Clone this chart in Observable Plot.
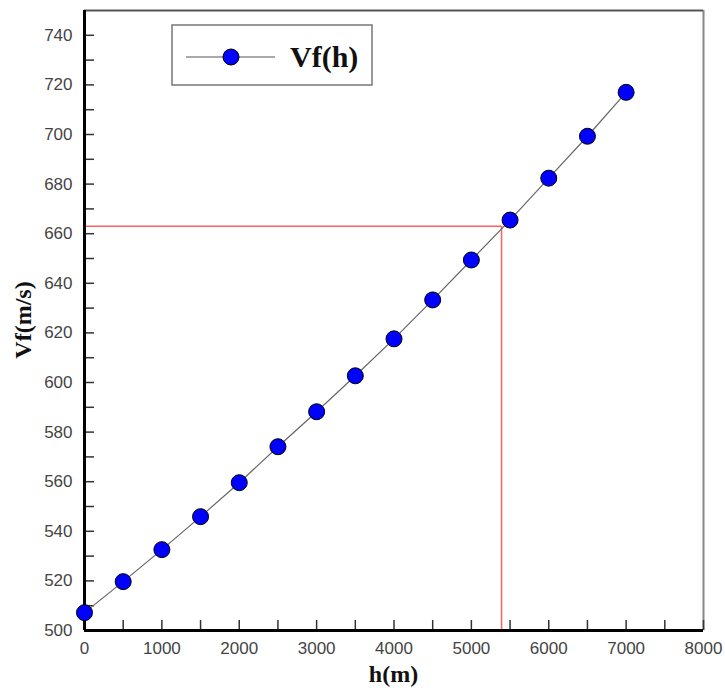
<!DOCTYPE html>
<html>
<head>
<meta charset="utf-8">
<script src="https://cdn.jsdelivr.net/npm/d3@7"></script>
<script src="https://cdn.jsdelivr.net/npm/@observablehq/plot@0.6"></script>
<style>
  body { margin: 0; background: #fff; }
  #wrap { position: relative; width: 725px; height: 690px; }
  #legend { position: absolute; left: 171px; top: 24px; }
</style>
</head>
<body>
<div id="wrap"></div>
<script>
const heights = [0, 500, 1000, 1500, 2000, 2500, 3000, 3500, 4000, 4500, 5000, 5500, 6000, 6500, 7000];
const vf = [507.2, 519.7, 532.6, 545.9, 559.6, 574.1, 588.2, 602.7, 617.6, 633.3, 649.4, 665.5, 682.4, 699.3, 717.0];
const xTickLabels = [0, 1000, 2000, 3000, 4000, 5000, 6000, 7000, 8000];
const yTickLabels = [500, 520, 540, 560, 580, 600, 620, 640, 660, 680, 700, 720, 740];
const xTicks = d3.range(0, 8001, 500);
const yTicks = d3.range(500, 741, 10);
const markH = 5390;
const markV = 663;
const seriesName = "Vf(h)";

const data = heights.map((h, i) => ({h, v: vf[i]}));

const W = 725, H = 690, ML = 84, MR = 22, MT = 10, MB = 60;
const innerW = W - ML - MR, innerH = H - MT - MB;

const chart = Plot.plot({
  width: W,
  height: H,
  marginLeft: ML,
  marginRight: MR,
  marginTop: MT,
  marginBottom: MB,
  style: {fontFamily: "'Liberation Sans', Arial, sans-serif", fontSize: "17px", color: "#444", background: "#fff"},
  x: {domain: [0, 8000]},
  y: {domain: [500, 750]},
  marks: [
    Plot.ruleY([markV], {x1: 0, x2: markH, stroke: "#ff6060", strokeWidth: 1.5}),
    Plot.ruleX([markH], {y1: 500, y2: markV, stroke: "#ff6060", strokeWidth: 1.5}),
    Plot.ruleX([8000], {stroke: "#888", strokeWidth: 2}),
    Plot.ruleY([750], {stroke: "#555", strokeWidth: 2}),
    Plot.tickY(yTicks, {y: d => d, stroke: "#333", strokeWidth: 1.5, insetRight: innerW - 10}),
    Plot.tickX(xTicks, {x: d => d, stroke: "#333", strokeWidth: 1.5, insetTop: innerH - 10}),
    Plot.ruleX([0], {stroke: "#000", strokeWidth: 3}),
    Plot.ruleY([500], {stroke: "#000", strokeWidth: 3}),
    Plot.axisX(xTickLabels, {tickSize: 0, tickPadding: 11, fill: "#444", label: null, tickFormat: d => String(d)}),
    Plot.axisY(yTickLabels, {tickSize: 0, tickPadding: 12, fill: "#444", label: null, tickFormat: d => String(d)}),
    Plot.line(data, {x: "h", y: "v", stroke: "#666", strokeWidth: 1.2}),
    Plot.dot(data, {x: "h", y: "v", r: 8, fill: "#0000ff", stroke: "#000", strokeWidth: 1})
  ]
});

const svg = d3.select(chart);
svg.append("text")
  .attr("x", ML + innerW / 2).attr("y", 682)
  .attr("text-anchor", "middle")
  .style("font-family", "'Liberation Serif', 'Times New Roman', serif")
  .style("font-weight", "bold").style("font-size", "24px").attr("fill", "#111")
  .text("h(m)");
svg.append("text")
  .attr("transform", `translate(31,320) rotate(-90)`)
  .attr("text-anchor", "middle")
  .style("font-family", "'Liberation Serif', 'Times New Roman', serif")
  .style("font-weight", "bold").style("font-size", "24px").attr("fill", "#111")
  .text("Vf(m/s)");

const wrap = document.getElementById("wrap");
wrap.appendChild(chart);

// legend
const leg = d3.select(wrap).append("svg").attr("id", "legend")
  .attr("width", 202).attr("height", 62);
leg.append("rect").attr("x", 1).attr("y", 1).attr("width", 200).attr("height", 60)
  .attr("fill", "#fff").attr("stroke", "#777").attr("stroke-width", 1.5);
leg.append("line").attr("x1", 15).attr("x2", 104).attr("y1", 33).attr("y2", 33)
  .attr("stroke", "#555").attr("stroke-width", 1.2);
leg.append("circle").attr("cx", 60).attr("cy", 33).attr("r", 8)
  .attr("fill", "#0000ff").attr("stroke", "#000").attr("stroke-width", 1);
leg.append("text").attr("x", 119).attr("y", 43)
  .style("font-family", "'Liberation Serif', 'Times New Roman', serif")
  .style("font-weight", "bold").style("font-size", "30px").attr("fill", "#111")
  .text(seriesName);
</script>
</body>
</html>
